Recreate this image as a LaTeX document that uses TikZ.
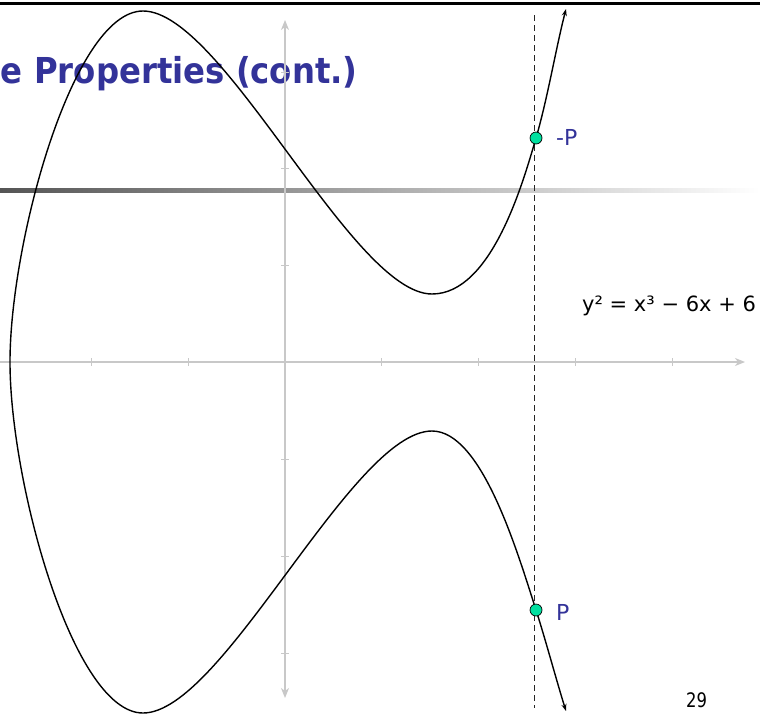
\documentclass[tikz,border=0pt]{standalone}
\usepackage{fontspec}
\setmainfont{DejaVu Sans}
\usetikzlibrary{arrows.meta}
\definecolor{titleblue}{HTML}{333399}
\definecolor{ptgreen}{HTML}{00E0A0}
\definecolor{axisgray}{HTML}{C8C8C8}
\definecolor{bardark}{HTML}{555555}
\definecolor{barmid}{HTML}{CFCFCF}
\begin{document}
\begin{tikzpicture}[x=1pt,y=-1pt,
  titletext/.style={text=titleblue,inner sep=0pt,font=\fontsize{35.7}{40}\selectfont\bfseries},
  lbltext/.style={text=titleblue,inner sep=0pt,font=\fontsize{22}{26}\selectfont},
  eqtext/.style={text=black,inner sep=0pt,font=\fontsize{21}{25}\selectfont},
  pagetext/.style={text=black,inner sep=0pt,font=\fontsize{20}{24}\selectfont},
  axisline/.style={draw=axisgray,line width=1.2pt},
  ticklines/.style={draw=axisgray,line width=1pt},
  dashline/.style={draw=black!85,line width=0.9pt,dash pattern=on 6pt off 4pt},
  curveline/.style={draw=black,line width=1.4pt,{Stealth[length=7pt,width=5pt]}-{Stealth[length=7pt,width=5pt]}},
  ptdot/.style={circle,fill=ptgreen,draw=black,line width=0.7pt,minimum size=12pt,inner sep=0pt}
]
\useasboundingbox (0,0) rectangle (760,715);
% top rule
\draw[line width=3pt] (0,3.3) -- (760,3.3);
% gradient bar
\fill[left color=bardark,middle color=barmid,right color=white] (0,188) rectangle (760,192.5);
% title
\node[titletext,anchor=base east] (title) at (358,83) {\scalebox{0.906}[1]{e Properties (cont.)}};
% axes
\draw[axisline,-{Stealth[length=10pt,width=8pt,inset=3pt]}] (0,362) -- (745,362);
\draw[axisline,{Stealth[length=10pt,width=8pt,inset=3pt]}-{Stealth[length=10pt,width=8pt,inset=3pt]}] (285,698) -- (285,20);
\foreach \xx in {91,188,381,478,575,672} \draw[ticklines] (\xx,358) -- (\xx,366);
\foreach \yy in {72,168.5,265.5,459,556,653} \draw[ticklines] (281,\yy) -- (289,\yy);
% dashed vertical
\coordinate (dtop) at (534.7,15);
\coordinate (dbot) at (534.7,708);
\draw[dashline] (dtop) -- (dbot);
% curve
\coordinate (A) at (566,9);
\coordinate (B) at (536,138);
\coordinate (C) at (432,294);
\coordinate (E) at (143,11);
\coordinate (F) at (10,362);
\coordinate (E2) at (143,713);
\coordinate (C2) at (432,431);
\coordinate (B2) at (536,610);
\coordinate (A2) at (566,711);
\draw[curveline] (A) .. controls (556,47.8) and (547.3,99.6) .. (B)
  .. controls (523.3,181.2) and (492,294) .. (C)
  .. controls (352,294) and (223,11) .. (E)
  .. controls (73,11) and (10,242) .. (F)
  .. controls (10,482) and (73,713) .. (E2)
  .. controls (223,713) and (352,431) .. (C2)
  .. controls (482,431) and (517.6,552.9) .. (B2)
  .. controls (545.2,638.6) and (557,682.4) .. (A2);
% points
\node[ptdot] (mP) at (B) {};
\node[ptdot] (P) at (B2) {};
% labels
\node[lbltext,anchor=base west] (mPlabel) at (556,145.5) {-P};
\node[lbltext,anchor=base west] (Plabel) at (556,620) {P};
\node[eqtext,anchor=base west] (eq) at (582,311) {y² = x³ − 6x + 6};
\node[pagetext,anchor=base west] (page) at (686,707) {\scalebox{0.82}[1]{29}};
\end{tikzpicture}
\end{document}
